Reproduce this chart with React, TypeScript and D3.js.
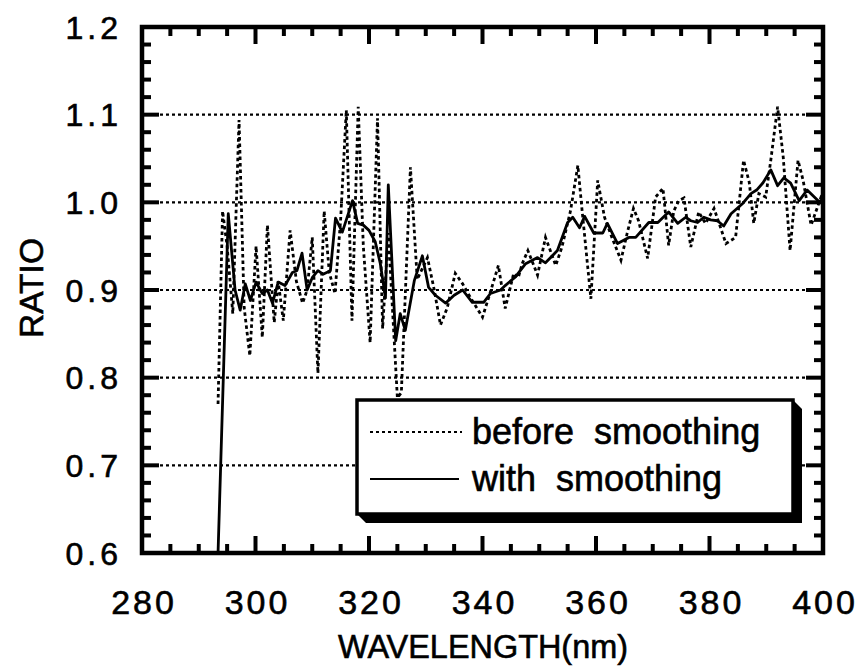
import React from 'react';
import * as d3 from 'd3';

// before smoothing (dotted)
const rawWavelength = [
  293.4, 294.2, 295.0, 296.0, 297.1, 298.0, 299.0, 300.1, 301.2, 302.1, 303.3, 304.0, 304.9, 306.1,
  307.2, 308.3, 309.1, 310.0, 311.0, 312.1, 313.0, 314.0, 315.0, 316.0, 317.0, 318.1, 319.0, 320.2,
  321.5, 322.4, 323.4, 325.0, 325.7, 327.3, 328.5, 330.3, 331.5, 332.6, 333.8, 335.2, 336.5, 338.0,
  340.0, 341.5, 342.8, 344.0, 345.5, 346.3, 347.0, 348.0, 349.7, 351.1, 352.9, 354.0, 355.5, 356.8,
  357.5, 359.1, 360.3, 361.5, 362.8, 364.4, 365.5, 366.6, 367.5, 369.1, 370.5, 371.8, 372.8, 373.7,
  374.6, 375.5, 376.7, 378.1, 379.3, 380.8, 382.9, 384.6, 386.0, 387.0, 387.8, 388.7, 389.9, 390.8,
  392.0, 393.0, 394.2, 395.6, 396.5, 397.9, 399.6, 400.0,
];
const rawRatio = [
  0.77, 0.99, 0.95, 0.873, 1.094, 0.88, 0.825, 0.95, 0.846, 0.974, 0.863, 0.91, 0.865, 0.968,
  0.91, 0.885, 0.9, 0.96, 0.805, 0.99, 0.92, 0.896, 0.98, 1.105, 0.865, 1.109, 0.95, 0.84,
  1.096, 0.856, 0.965, 0.777, 0.783, 1.04, 0.912, 0.937, 0.9, 0.86, 0.88, 0.919, 0.907, 0.89,
  0.869, 0.9, 0.928, 0.879, 0.919, 0.914, 0.93, 0.945, 0.917, 0.96, 0.928, 0.949, 0.99, 1.042,
  0.994, 0.89, 1.025, 0.983, 0.96, 0.934, 0.965, 0.993, 0.979, 0.936, 1.006, 1.016, 0.951, 0.99,
  1.002, 1.005, 0.949, 0.989, 0.976, 0.993, 0.953, 0.96, 1.048, 1.023, 0.976, 1.01, 1.006, 1.048,
  1.109, 1.051, 0.945, 1.048, 1.025, 0.974, 1.005, 1.0,
];

// with smoothing (solid)
const smoothWavelength = [
  293.4, 295.2, 296.4, 297.3, 298.2, 299.1, 300.1, 301.2, 302.1, 303.0, 304.0, 305.2, 306.5, 307.3,
  308.2, 309.1, 310.0, 311.0, 311.9, 313.2, 314.1, 315.3, 317.1, 318.0, 319.0, 320.0, 321.1, 322.0,
  322.9, 323.4, 324.7, 325.5, 326.4, 328.0, 329.4, 330.5, 331.7, 333.5, 335.0, 336.5, 338.2, 340.2,
  341.4, 343.2, 344.0, 345.8, 347.6, 349.7, 351.1, 353.2, 355.0, 355.9, 357.1, 358.0, 359.6, 361.2,
  362.0, 363.8, 365.8, 367.0, 369.3, 370.9, 372.8, 374.4, 375.8, 376.7, 377.9, 379.0, 380.2, 381.4,
  382.5, 383.8, 385.9, 387.3, 388.3, 389.4, 390.8, 392.0, 393.1, 394.3, 395.8, 397.2, 399.1, 400.0,
];
const smoothRatio = [
  0.6, 0.987, 0.9, 0.877, 0.907, 0.888, 0.909, 0.896, 0.9, 0.885, 0.909, 0.905, 0.92, 0.922,
  0.942, 0.9, 0.914, 0.922, 0.918, 0.922, 0.982, 0.966, 1.002, 0.976, 0.974, 0.968, 0.955, 0.93,
  0.891, 1.02, 0.842, 0.873, 0.854, 0.911, 0.939, 0.903, 0.894, 0.885, 0.894, 0.9, 0.886, 0.886,
  0.896, 0.9, 0.905, 0.915, 0.93, 0.937, 0.931, 0.945, 0.977, 0.983, 0.971, 0.984, 0.965, 0.965,
  0.976, 0.953, 0.96, 0.96, 0.977, 0.977, 0.989, 0.976, 0.983, 0.979, 0.977, 0.983, 0.98, 0.979,
  0.973, 0.987, 0.999, 1.01, 1.014, 1.022, 1.037, 1.019, 1.028, 1.022, 1.002, 1.014, 1.002, 1.0,
];

const xTicks = [280, 300, 320, 340, 360, 380, 400];
const yTicks = [0.6, 0.7, 0.8, 0.9, 1.0, 1.1, 1.2];
const gridValues = [0.7, 0.8, 0.9, 1.0, 1.1];
const legendLabels = ['before  smoothing', 'with  smoothing'];

const W = 858;
const H = 666;
const left = 142;
const right = 823;
const top = 27;
const bottom = 553;
const FONT = '"Liberation Sans", Arial, Helvetica, sans-serif';

export default function App() {
  const x = d3.scaleLinear().domain([280, 400]).range([left, right]);
  const y = d3.scaleLinear().domain([0.6, 1.2]).range([bottom, top]);

  const line = d3
    .line<[number, number]>()
    .x(d => x(d[0]))
    .y(d => y(d[1]));

  const rawPath = line(rawWavelength.map((w, i) => [w, rawRatio[i]] as [number, number])) || '';
  const smoothPath = line(smoothWavelength.map((w, i) => [w, smoothRatio[i]] as [number, number])) || '';

  const xMinor = d3.range(280, 400.1, 5);
  const yMinor = d3.range(0.6, 1.2001, 0.02);

  // legend box
  const lg = { x0: 357, y0: 400, x1: 793, y1: 514 };
  const sh = 9;
  const textStyle = { stroke: '#000', strokeWidth: 0.6 };

  return (
    <svg width={W} height={H} style={{ position: 'absolute', left: 0, top: 0, background: '#fff' }}>
      <defs>
        <clipPath id="plot-clip">
          <rect x={left} y={top} width={right - left} height={bottom - top} />
        </clipPath>
      </defs>

      {/* grid */}
      {gridValues.map(v => (
        <line key={v} x1={left} x2={right} y1={y(v)} y2={y(v)}
          stroke="#000" strokeWidth={2.2} strokeDasharray="3,3" />
      ))}

      {/* data */}
      <g clipPath="url(#plot-clip)">
        <path d={rawPath} fill="none" stroke="#000" strokeWidth={2.8} strokeDasharray="3.5,3" />
        <path d={smoothPath} fill="none" stroke="#000" strokeWidth={2.8} strokeLinejoin="round" />
      </g>

      {/* ticks */}
      {xMinor.map(v => {
        const major = Math.abs((v - 280) % 20) < 1e-6;
        const len = major ? 17 : 9;
        return (
          <g key={'xt' + v}>
            <line x1={x(v)} x2={x(v)} y1={bottom} y2={bottom - len} stroke="#000" strokeWidth={4} />
            <line x1={x(v)} x2={x(v)} y1={top} y2={top + len} stroke="#000" strokeWidth={4} />
          </g>
        );
      })}
      {yMinor.map(v => {
        const major = Math.abs(Math.round(v * 10) - v * 10) < 1e-6;
        const len = major ? 17 : 9;
        return (
          <g key={'yt' + v.toFixed(2)}>
            <line x1={left} x2={left + len} y1={y(v)} y2={y(v)} stroke="#000" strokeWidth={4} />
            <line x1={right} x2={right - len} y1={y(v)} y2={y(v)} stroke="#000" strokeWidth={4} />
          </g>
        );
      })}

      {/* frame */}
      <rect x={left} y={top} width={right - left} height={bottom - top} fill="none" stroke="#000" strokeWidth={4.5} />

      {/* tick labels */}
      {yTicks.map(v => (
        <text key={'yl' + v} x={122} y={y(v)} dy="0.36em" textAnchor="end"
          fontFamily={FONT} fontSize={32} letterSpacing={4} fill="#000" style={textStyle}>
          {v.toFixed(1)}
        </text>
      ))}
      {xTicks.map(v => (
        <text key={'xl' + v} x={x(v) + 2} y={614} textAnchor="middle"
          fontFamily={FONT} fontSize={34} letterSpacing={3} fill="#000" style={textStyle}>
          {v}
        </text>
      ))}

      {/* axis titles */}
      <text x={483} y={658} textAnchor="middle" fontFamily={FONT} fontSize={33}
        textLength={290} lengthAdjust="spacingAndGlyphs" fill="#000" style={textStyle}>
        WAVELENGTH(nm)
      </text>
      <text transform="translate(43,288) rotate(-90)" textAnchor="middle" fontFamily={FONT}
        fontSize={33} textLength={100} lengthAdjust="spacingAndGlyphs" fill="#000" style={textStyle}>
        RATIO
      </text>

      {/* legend */}
      <path
        d={`M${lg.x0},${lg.y1} L${lg.x0 + sh},${lg.y1 + sh} L${lg.x1 + sh},${lg.y1 + sh} L${lg.x1 + sh},${lg.y0 + sh} L${lg.x1},${lg.y0} Z`}
        fill="#000"
      />
      <rect x={lg.x0} y={lg.y0} width={lg.x1 - lg.x0} height={lg.y1 - lg.y0} fill="#fff" stroke="#000" strokeWidth={3.5} />
      <line x1={370} x2={462} y1={432} y2={432} stroke="#000" strokeWidth={2} strokeDasharray="3,3" />
      <line x1={370} x2={459} y1={479} y2={479} stroke="#000" strokeWidth={2} />
      {legendLabels.map((t, i) => (
        <text key={t} x={472} y={444 + i * 47} fontFamily={FONT} fontSize={36}
          fill="#000" style={{ ...textStyle, whiteSpace: 'pre' }}>
          {t}
        </text>
      ))}
    </svg>
  );
}
